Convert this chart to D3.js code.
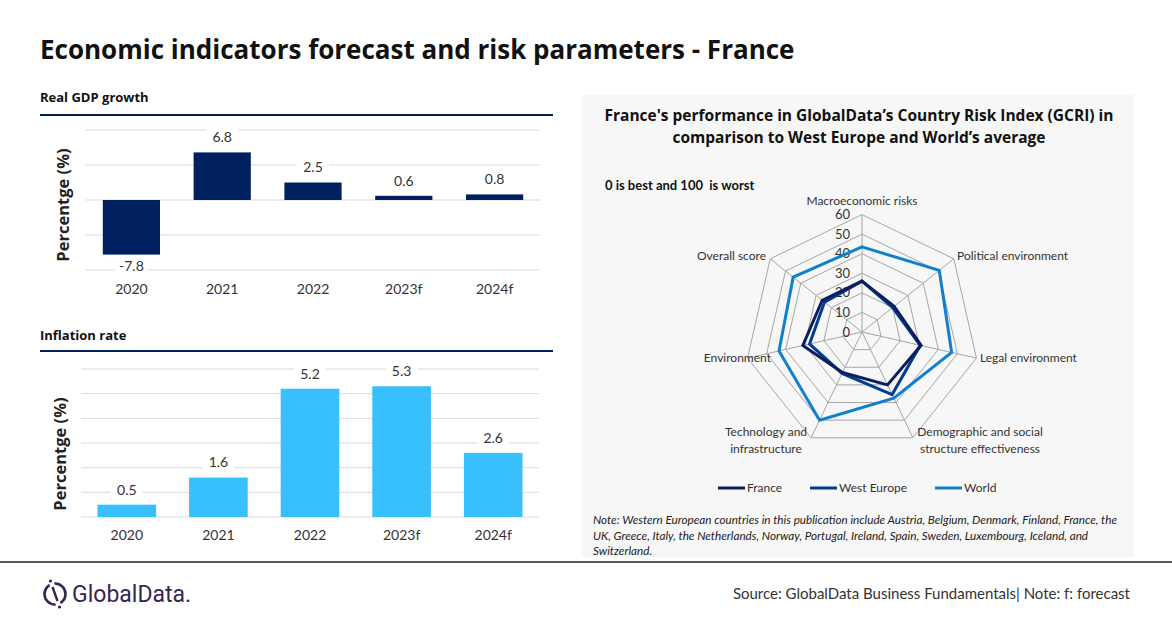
<!DOCTYPE html>
<html>
<head>
<meta charset="utf-8">
<script src="https://cdn.jsdelivr.net/npm/d3@7"></script>
<style>
  body { margin: 0; background: #fff; }
  svg { font-family: Lato, "Open Sans", sans-serif; }
</style>
</head>
<body>
<script>
// data
var years = ["2020", "2021", "2022", "2023f", "2024f"];
var gdpValues = [-7.8, 6.8, 2.5, 0.6, 0.8];
var inflationValues = [0.5, 1.6, 5.2, 5.3, 2.6];
var gdpTicks = [-10, -5, 0, 5, 10];
var inflationTicks = [0, 1, 2, 3, 4, 5, 6];

var riskAxes = ["Macroeconomic risks", "Political environment", "Legal environment",
  "Demographic and social structure effectiveness", "Technology and infrastructure",
  "Environment", "Overall score"];
var franceScores = [26, 21, 31, 30, 23, 31, 26];
var westEuropeScores = [26, 20, 30.5, 35.5, 23.5, 27.5, 24.5];
var worldScores = [43.5, 50.5, 47, 37.5, 50, 43.5, 45];
var radarTicks = [0, 10, 20, 30, 40, 50, 60];
var seriesNames = ["France", "West Europe", "World"];

var openSans = "'Open Sans', sans-serif";

var w = 1172, h = 628;
var svg = d3.select("body").append("svg")
    .attr("width", w)
    .attr("height", h);

// main title
svg.append("text")
    .attr("x", 40).attr("y", 59)
    .attr("font-size", "26px").attr("font-weight", "bold")
    .style("font-family", openSans)
    .attr("fill", "#111")
    .text("Economic indicators forecast and risk parameters - France");

// bar chart helper
function barChart(opt) {
    var g = svg.append("g");
    g.append("text")
        .attr("x", 40).attr("y", opt.titleY)
        .attr("font-size", "13px").attr("font-weight", "bold")
        .style("font-family", openSans)
        .attr("fill", "#111")
        .text(opt.title);
    g.append("line")
        .attr("x1", 40).attr("x2", 553)
        .attr("y1", opt.ruleY).attr("y2", opt.ruleY)
        .attr("stroke", "#002060").attr("stroke-width", 2);

    var x = d3.scaleBand().domain(years).range(opt.xRange)
        .paddingInner(opt.pad).paddingOuter(opt.pad / 2);
    var y = d3.scaleLinear().domain(opt.domain).range(opt.yRange);

    g.selectAll(".grid")
        .data(opt.ticks)
        .enter().append("line")
        .attr("x1", opt.xRange[0]).attr("x2", opt.xRange[1])
        .attr("y1", function(d) { return y(d); })
        .attr("y2", function(d) { return y(d); })
        .attr("stroke", "#d9d9d9").attr("stroke-width", 1);

    g.selectAll("rect.bar")
        .data(opt.values)
        .enter().append("rect")
        .attr("class", "bar")
        .attr("x", function(d, i) { return x(years[i]); })
        .attr("y", function(d) { return y(Math.max(0, d)); })
        .attr("width", x.bandwidth())
        .attr("height", function(d) { return Math.abs(y(d) - y(0)); })
        .attr("fill", opt.color);

    // data labels with white backing
    var lab = g.selectAll("g.lab")
        .data(opt.values)
        .enter().append("g")
        .attr("transform", function(d, i) {
            var cx = x(years[i]) + x.bandwidth() / 2;
            var cy = d >= 0 ? y(d) - 15 : y(d) + 11;
            return "translate(" + cx + "," + cy + ")";
        });
    lab.append("rect")
        .attr("x", -16).attr("y", -9).attr("width", 32).attr("height", 18)
        .attr("fill", "#fff");
    lab.append("text")
        .attr("text-anchor", "middle").attr("dy", "0.35em")
        .attr("font-size", "14px").attr("fill", "#333")
        .text(function(d) { return d.toFixed(1); });

    var xAxis = g.append("g")
        .attr("transform", "translate(0," + opt.tickY + ")")
        .call(d3.axisBottom(x).tickSize(0).tickPadding(0));
    xAxis.select(".domain").remove();
    xAxis.attr("font-family", null);
    xAxis.selectAll("text")
        .attr("font-size", "14px").attr("fill", "#333");

    g.append("text")
        .attr("transform", "translate(" + opt.labelX + "," + opt.labelY + ") rotate(-90)")
        .attr("text-anchor", "middle")
        .attr("font-size", "16.5px").attr("font-weight", "bold")
        .style("font-family", openSans)
        .attr("fill", "#222")
        .text("Percentge (%)");
}

barChart({
    title: "Real GDP growth", titleY: 102, ruleY: 115,
    values: gdpValues, ticks: gdpTicks, domain: [-10, 10],
    xRange: [86, 540], yRange: [270, 130], pad: 0.37,
    color: "#002060", tickY: 284, labelX: 69, labelY: 205
});

barChart({
    title: "Inflation rate", titleY: 340, ruleY: 351,
    values: inflationValues, ticks: inflationTicks, domain: [0, 6],
    xRange: [81, 539], yRange: [517, 369], pad: 0.36,
    color: "#38c0fc", tickY: 530, labelX: 66, labelY: 454
});

// radar panel
var panel = svg.append("g");
panel.append("rect")
    .attr("x", 582).attr("y", 95).attr("width", 552).attr("height", 462)
    .attr("fill", "#f7f7f7");

var rTitle = panel.append("text")
    .attr("text-anchor", "middle")
    .style("font-family", openSans)
    .attr("font-size", "15.5px").attr("font-weight", "bold").attr("fill", "#111");
rTitle.append("tspan").attr("x", 859).attr("y", 121)
    .text("France's performance in GlobalData\u2019s Country Risk Index (GCRI) in");
rTitle.append("tspan").attr("x", 859).attr("y", 143)
    .text("comparison to West Europe and World\u2019s average");

panel.append("text")
    .attr("x", 605).attr("y", 190)
    .attr("font-size", "13px").attr("font-weight", "bold").attr("fill", "#111")
    .text("0 is best and 100\u00a0 is worst");

var cx = 862, cy = 332;
var r = d3.scaleLinear().domain([0, 60]).range([0, 117.4]);
var n = riskAxes.length;
var angle = function(i) { return i * 2 * Math.PI / n; };

var radar = panel.append("g").attr("transform", "translate(" + cx + "," + cy + ")");

var ring = d3.lineRadial()
    .angle(function(d, i) { return angle(i); })
    .radius(function(d) { return r(d); })
    .curve(d3.curveLinearClosed);

radar.selectAll("path.ring")
    .data(radarTicks.slice(1))
    .enter().append("path")
    .attr("d", function(t) { return ring(riskAxes.map(function() { return t; })); })
    .attr("fill", "none").attr("stroke", "#a6a6a6").attr("stroke-width", 1);

radar.selectAll("line.spoke")
    .data(riskAxes)
    .enter().append("line")
    .attr("x1", 0).attr("y1", 0)
    .attr("x2", function(d, i) { return r(60) * Math.sin(angle(i)); })
    .attr("y2", function(d, i) { return -r(60) * Math.cos(angle(i)); })
    .attr("stroke", "#a6a6a6").attr("stroke-width", 1);

radar.selectAll("text.tick")
    .data(radarTicks)
    .enter().append("text")
    .attr("x", -12).attr("y", function(d) { return -r(d); })
    .attr("dy", "0.35em").attr("text-anchor", "end")
    .attr("font-size", "13px").attr("fill", "#333")
    .text(function(d) { return d; });

// axis labels
var axisLabelPos = [
    { x: 0, y: -131, anchor: "middle", lines: ["Macroeconomic risks"] },
    { x: 95, y: -76, anchor: "start", lines: ["Political environment"] },
    { x: 118, y: 26, anchor: "start", lines: ["Legal environment"] },
    { x: 118, y: 100, anchor: "middle", lines: ["Demographic and social", "structure effectiveness"] },
    { x: -96, y: 100, anchor: "middle", lines: ["Technology and", "infrastructure"] },
    { x: -91, y: 26, anchor: "end", lines: ["Environment"] },
    { x: -96, y: -76, anchor: "end", lines: ["Overall score"] }
];
axisLabelPos.forEach(function(p) {
    var t = radar.append("text")
        .attr("text-anchor", p.anchor)
        .attr("font-size", "12px").attr("fill", "#333");
    p.lines.forEach(function(l, j) {
        t.append("tspan").attr("x", p.x).attr("y", p.y + j * 17)
            .attr("dy", "0.35em").text(l);
    });
});

var series = [
    { name: seriesNames[0], values: franceScores, color: "#0c1f5c" },
    { name: seriesNames[1], values: westEuropeScores, color: "#033b8f" },
    { name: seriesNames[2], values: worldScores, color: "#1080cc" }
];

radar.selectAll("path.series")
    .data(series.slice().reverse())
    .enter().append("path")
    .attr("d", function(s) { return ring(s.values); })
    .attr("fill", "none")
    .attr("stroke", function(s) { return s.color; })
    .attr("stroke-width", 3)
    .attr("stroke-linejoin", "miter");

// legend
var legendX = [718, 810, 935];
var leg = panel.selectAll("g.leg")
    .data(series)
    .enter().append("g")
    .attr("transform", function(d, i) { return "translate(" + legendX[i] + ",488)"; });
leg.append("line")
    .attr("x1", 0).attr("x2", 27).attr("y1", 0).attr("y2", 0)
    .attr("stroke", function(d) { return d.color; }).attr("stroke-width", 3);
leg.append("text")
    .attr("x", 29).attr("dy", "0.35em")
    .attr("font-size", "12px").attr("fill", "#333")
    .text(function(d) { return d.name; });

var note = panel.append("text")
    .attr("font-size", "11.7px").attr("font-style", "italic").attr("fill", "#222");
["Note: Western European countries in this publication include Austria, Belgium, Denmark, Finland, France, the",
 "UK, Greece, Italy, the Netherlands, Norway, Portugal, Ireland, Spain, Sweden, Luxembourg, Iceland, and",
 "Switzerland."].forEach(function(l, i) {
    note.append("tspan").attr("x", 593).attr("y", 524 + i * 15.5).text(l);
});

// footer
svg.append("line")
    .attr("x1", 0).attr("x2", w).attr("y1", 562).attr("y2", 562)
    .attr("stroke", "#595959").attr("stroke-width", 2);

var logo = svg.append("g").attr("transform", "translate(55,594)");
logo.append("circle").attr("r", 10.5)
    .attr("fill", "none").attr("stroke", "#36264f").attr("stroke-width", 2.6);
logo.append("line").attr("x1", -4).attr("y1", -13).attr("x2", 4).attr("y2", 13)
    .attr("stroke-width", 5).attr("stroke", "#fff");
logo.append("line").attr("x1", -2.5).attr("y1", -7).attr("x2", 2.5).attr("y2", 7)
    .attr("stroke", "#36264f").attr("stroke-width", 2.4);
logo.append("circle").attr("cx", -4.5).attr("cy", -13).attr("r", 1.6).attr("fill", "#36264f");
logo.append("circle").attr("cx", 4.5).attr("cy", 13).attr("r", 1.6).attr("fill", "#36264f");
svg.append("text")
    .attr("x", 72).attr("y", 602)
    .attr("font-size", "23px").attr("fill", "#36264f")
    .style("font-family", "Roboto, sans-serif")
    .text("GlobalData.");

svg.append("text")
    .attr("x", 1130).attr("y", 599)
    .attr("text-anchor", "end")
    .attr("font-size", "15px").attr("fill", "#333")
    .text("Source: GlobalData Business Fundamentals| Note: f: forecast");
</script>
</body>
</html>
